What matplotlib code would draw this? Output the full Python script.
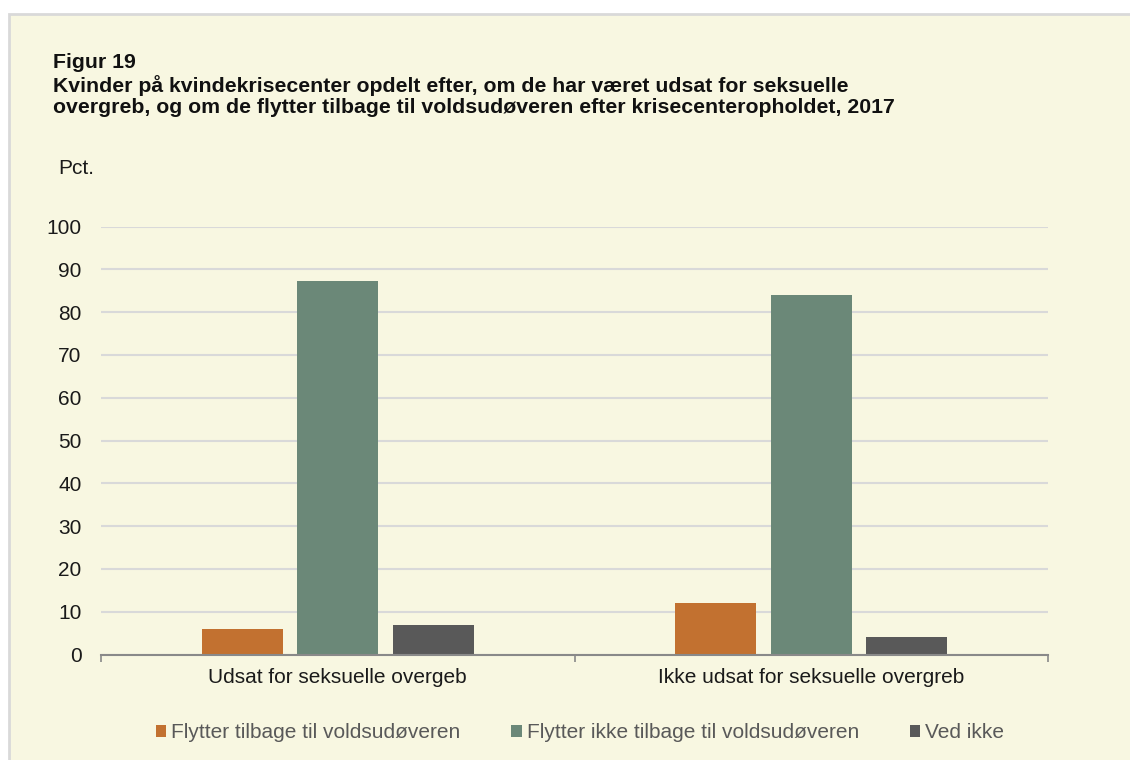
import matplotlib.pyplot as plt
import numpy as np
from matplotlib.patches import Rectangle

# =============================================================================
# Data
# =============================================================================
categories = ['Udsat for seksuelle overgeb', 'Ikke udsat for seksuelle overgreb']
series_names = ['Flytter tilbage til voldsudøveren',
                'Flytter ikke tilbage til voldsudøveren',
                'Ved ikke']
flytter_tilbage = [5.9, 12.0]
flytter_ikke = [87.3, 84.1]
ved_ikke = [6.9, 4.1]
yticks = [0, 10, 20, 30, 40, 50, 60, 70, 80, 90, 100]

colors = ['#C27130', '#6B8878', '#595959']
bg = '#F8F7E1'

plt.rcParams['font.family'] = ['Liberation Sans', 'DejaVu Sans']

fig = plt.figure(figsize=(11.3, 7.6), dpi=100)
fig.set_facecolor('white')

# beige panel with thin grey frame, behind everything
fig.patches.append(Rectangle((9 / 1130, -0.01), 1.0, 1 - 13.5 / 760 + 0.01,
                             transform=fig.transFigure, facecolor=bg,
                             edgecolor='#D9D9D9', linewidth=2, zorder=-10))

ax = fig.add_axes([101 / 1130, 1 - 654.5 / 760, (1048 - 101) / 1130, (654.5 - 226.5) / 760])
ax.set_facecolor('none')

x = np.arange(len(categories))
width = 0.171
step = 0.202
for i, (vals, name) in enumerate(zip([flytter_tilbage, flytter_ikke, ved_ikke], series_names)):
    ax.bar(x + (i - 1) * step, vals, width, color=colors[i], label=name, zorder=3)

ax.set_xlim(-0.5, 1.5)
ax.set_ylim(0, 100)
ax.set_yticks(yticks)
ax.grid(axis='y', color='#D9D9D9', linewidth=1.5, zorder=0)
ax.set_axisbelow(True)

for s in ['top', 'right', 'left']:
    ax.spines[s].set_visible(False)
ax.spines['bottom'].set_color('#898989')
ax.spines['bottom'].set_linewidth(1.5)
ax.spines['bottom'].set_zorder(4)

# group separators as major ticks, category names as minor tick labels
ax.set_xticks([-0.5, 0.5, 1.5])
ax.set_xticklabels([])
ax.set_xticks(x, minor=True)
ax.set_xticklabels(categories, minor=True)
ax.tick_params(axis='x', which='major', length=5, width=1.2, color='#898989')
ax.tick_params(axis='x', which='minor', length=0, pad=9.5, labelsize=15, labelcolor='#1a1a1a')
ax.tick_params(axis='y', length=0, pad=14, labelsize=15, labelcolor='#1a1a1a')

fig.text(53 / 1130, 1 - 53 / 760,
         'Figur 19\n'
         'Kvinder på kvindekrisecenter opdelt efter, om de har været udsat for seksuelle\n'
         'overgreb, og om de flytter tilbage til voldsudøveren efter krisecenteropholdet, 2017',
         fontsize=15.35, fontweight='bold', va='top', ha='left', linespacing=1.15, color='#111111')
fig.text(58 / 1130, 1 - 168 / 760, 'Pct.', fontsize=15, va='center', ha='left', color='#1a1a1a')

fig.legend(loc='center', bbox_to_anchor=(580 / 1130, 1 - 733 / 760), ncol=3, frameon=False,
           fontsize=15, handlelength=0.5, handleheight=0.5, handletextpad=0.24,
           columnspacing=2.45, labelcolor='#595959')

plt.savefig('out.png', dpi=100, facecolor=fig.get_facecolor())
